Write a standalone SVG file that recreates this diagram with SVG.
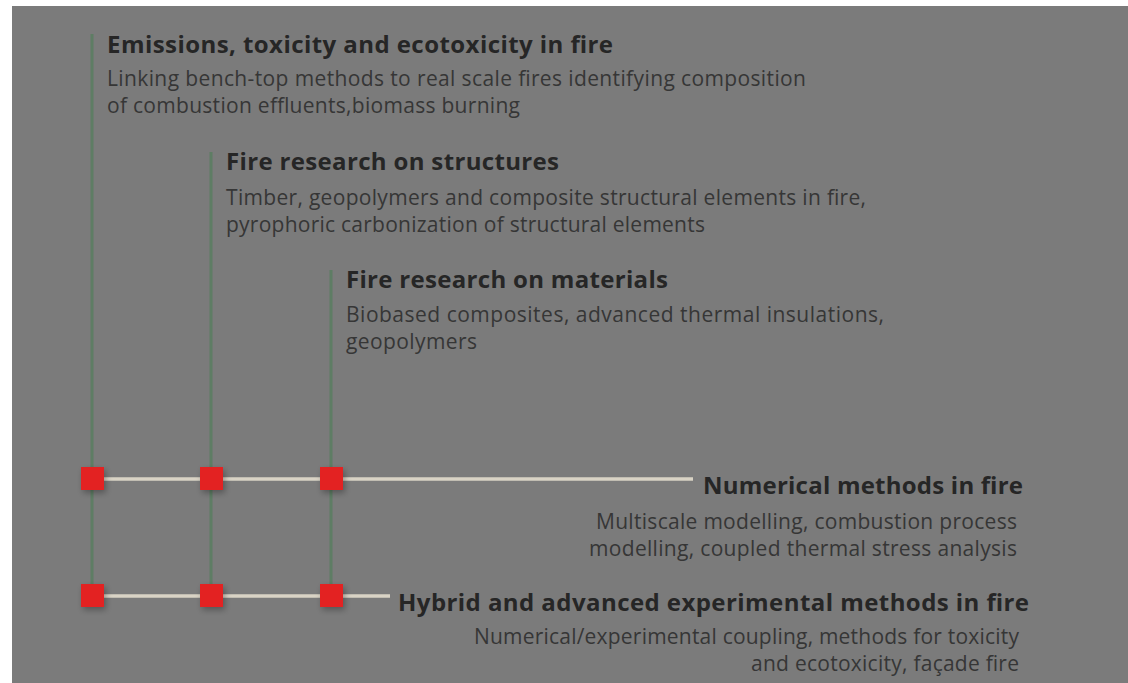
<svg xmlns="http://www.w3.org/2000/svg" width="1128" height="683" viewBox="0 0 1128 683">
<defs>
<style>
.t{font-family:"Open Sans","Noto Sans",sans-serif;font-weight:700;font-size:24px;fill:#262626}
.d{font-family:"Open Sans","Noto Sans",sans-serif;font-size:21px;fill:#363636}
.v{stroke:#5e7d64;stroke-width:3}
.h{stroke:#d9d3c5;stroke-width:3.5}
.sq{fill:#e32424;filter:url(#sh)}
</style>
<filter id="sh" x="-50%" y="-50%" width="200%" height="200%">
<feDropShadow dx="2" dy="3" stdDeviation="3" flood-color="#000" flood-opacity="0.3"/>
</filter>
</defs>
<rect x="0" y="0" width="1128" height="683" fill="#ffffff"/>
<rect x="12" y="6" width="1116" height="677" fill="#7b7b7b"/>
<g id="connectors">
<line class="v" x1="92" y1="34" x2="92" y2="596"/>
<line class="v" x1="211" y1="152" x2="211" y2="596"/>
<line class="v" x1="331" y1="270" x2="331" y2="596"/>
<line class="h" x1="92" y1="479" x2="693" y2="479"/>
<line class="h" x1="92" y1="596" x2="390" y2="596"/>
</g>
<g id="n1">
<text class="t" x="107" y="53" textLength="506">Emissions, toxicity and ecotoxicity in fire</text>
<text class="d" x="107" y="86" textLength="699">Linking bench-top methods to real scale fires identifying composition</text>
<text class="d" x="107" y="113" textLength="413">of combustion effluents,biomass burning</text>
</g>
<g id="n2">
<text class="t" x="226" y="170" textLength="333">Fire research on structures</text>
<text class="d" x="226" y="205" textLength="640">Timber, geopolymers and composite structural elements in fire,</text>
<text class="d" x="226" y="232" textLength="479">pyrophoric carbonization of structural elements</text>
</g>
<g id="n3">
<text class="t" x="346" y="288" textLength="322">Fire research on materials</text>
<text class="d" x="346" y="322" textLength="538">Biobased composites, advanced thermal insulations,</text>
<text class="d" x="346" y="349" textLength="131">geopolymers</text>
</g>
<g id="n4">
<text class="t" x="703" y="494" textLength="320">Numerical methods in fire</text>
<text class="d" x="596" y="529" textLength="421">Multiscale modelling, combustion process</text>
<text class="d" x="589" y="556" textLength="428">modelling, coupled thermal stress analysis</text>
</g>
<g id="n5">
<text class="t" x="398" y="611" textLength="631">Hybrid and advanced experimental methods in fire</text>
<text class="d" x="474" y="644" textLength="545">Numerical/experimental coupling, methods for toxicity</text>
<text class="d" x="751" y="671" textLength="268">and ecotoxicity, façade fire</text>
</g>
<g id="squares">
<rect class="sq" x="81" y="467" width="23" height="23"/>
<rect class="sq" x="200" y="467" width="23" height="23"/>
<rect class="sq" x="320" y="467" width="23" height="23"/>
<rect class="sq" x="81" y="584" width="23" height="23"/>
<rect class="sq" x="200" y="584" width="23" height="23"/>
<rect class="sq" x="320" y="584" width="23" height="23"/>
</g>
</svg>
